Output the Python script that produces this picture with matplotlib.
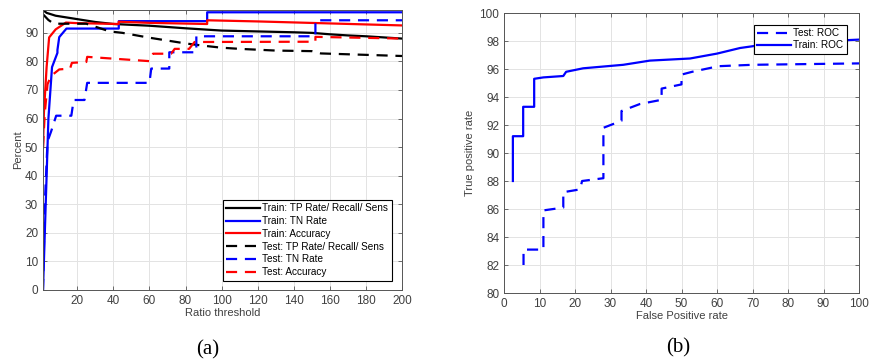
import matplotlib
matplotlib.use('Agg')
import matplotlib.pyplot as plt

plt.rcParams['font.family'] = ['Liberation Sans', 'DejaVu Sans']

# ---- panel (a): rates vs ratio threshold
tr_tp_x = [1, 3, 8, 15, 20, 30, 40, 50, 60, 80, 100, 120, 140, 150, 160, 170, 180, 200]
tr_tp_y = [98, 97, 96, 95.3, 94.8, 93.8, 93.1, 92.8, 92.5, 91.6, 90.8, 90.5, 90.2, 90.0, 89.5, 89.1, 88.8, 88.0]

tr_tn_x = [1, 2, 3, 4, 6, 9, 9, 10, 10, 14, 43, 43, 92, 92, 200]
tr_tn_y = [0, 20, 40, 60, 78, 83, 84, 88.5, 88.5, 91.5, 91.5, 94.1, 94.1, 97.2, 97.2]

tr_acc_x = [1, 1.5, 3, 4.4, 8, 13.7, 20, 43, 43, 60, 92, 92, 120, 160, 200]
tr_acc_y = [49.8, 62, 78, 88.4, 91.2, 93.6, 93.4, 93.1, 93.9, 93.5, 93.1, 94.4, 94.0, 93.3, 92.6]

te_tp_x = [1, 4, 7, 25, 38, 45, 60, 80, 90, 100, 110, 130, 150, 155, 200]
te_tp_y = [96.5, 94.5, 93.2, 93.2, 90.5, 90, 88.3, 86.3, 85.5, 84.8, 84.4, 83.8, 83.6, 82.8, 81.9]

te_tn_x = [1, 2, 3.5, 3.5, 5.5, 5.5, 8.3, 16.7, 18, 24, 25.5, 60, 61, 71, 71, 86, 86, 152, 152, 200]
te_tn_y = [0, 30, 52, 52, 55.5, 55.5, 61, 61, 66.5, 66.5, 72.5, 72.5, 77.5, 77.5, 83.2, 83.2, 88.8, 88.8, 94.4, 94.4]

te_acc_x = [1, 2, 3.5, 5.4, 10, 16, 17, 25, 25.5, 60, 62, 72, 74, 82, 85, 152, 152, 200]
te_acc_y = [50, 62, 72, 74.9, 77.2, 77.5, 79.5, 79.8, 81.6, 80.1, 82.7, 82.7, 84.4, 84.4, 86.8, 86.9, 88.6, 88.0]

a_xticks = [20, 40, 60, 80, 100, 120, 140, 160, 180, 200]
a_yticks = [0, 10, 20, 30, 40, 50, 60, 70, 80, 90]

# ---- panel (b): ROC
te_roc_x = [5.5, 5.5, 5.5, 11.1, 11.1, 16.7, 16.7, 21.4, 22, 28, 28, 33.1, 33.1, 38.3, 44.4, 44.4, 50, 50, 53, 60.4, 70, 85, 100]
te_roc_y = [82.0, 82.0, 83.1, 83.1, 85.9, 86.1, 87.2, 87.4, 88.0, 88.2, 91.8, 92.3, 93.0, 93.5, 93.8, 94.6, 94.9, 95.6, 95.8, 96.2, 96.3, 96.35, 96.4]

tr_roc_x = [2.5, 2.5, 5.4, 5.4, 8.5, 8.5, 11.1, 16.7, 17.5, 22.3, 33.6, 41.1, 52.4, 60, 66.5, 72.1, 85, 97.5, 100]
tr_roc_y = [88.0, 91.2, 91.2, 93.3, 93.3, 95.3, 95.4, 95.5, 95.8, 96.05, 96.3, 96.6, 96.75, 97.1, 97.5, 97.7, 97.9, 98.07, 98.1]

b_xticks = [0, 10, 20, 30, 40, 50, 60, 70, 80, 90, 100]
b_yticks = [80, 82, 84, 86, 88, 90, 92, 94, 96, 98, 100]

dash = (0, (5, 3.5))
lw = 1.6
tick_col = '#404040'


def style(ax):
    ax.grid(True, color='#e3e3e3', linewidth=0.7)
    ax.set_axisbelow(True)
    ax.tick_params(direction='in', top=True, right=True, length=3, width=0.6,
                   labelsize=8.5, colors='#555555', labelcolor=tick_col)
    for s in ax.spines.values():
        s.set_color('#555555')
        s.set_linewidth(0.7)


fig = plt.figure(figsize=(8.69, 3.63), dpi=100)

ax1 = fig.add_axes([43/869, 73/363, 359/869, 280/363])
ax1.plot(tr_tp_x, tr_tp_y, color='k', lw=lw, label='Train: TP Rate/ Recall/ Sens')
ax1.plot(tr_tn_x, tr_tn_y, color='b', lw=lw, label='Train: TN Rate')
ax1.plot(tr_acc_x, tr_acc_y, color='r', lw=lw, label='Train: Accuracy')
ax1.plot(te_tp_x, te_tp_y, color='k', lw=lw, ls=dash, label='Test: TP Rate/ Recall/ Sens')
ax1.plot(te_tn_x, te_tn_y, color='b', lw=lw, ls=dash, label='Test: TN Rate')
ax1.plot(te_acc_x, te_acc_y, color='r', lw=lw, ls=dash, label='Test: Accuracy')
ax1.set_xlim(1, 200)
ax1.set_ylim(0, 98)
ax1.set_xticks(a_xticks)
ax1.set_yticks(a_yticks)
ax1.set_xlabel('Ratio threshold', fontsize=8, color=tick_col, labelpad=1)
ax1.set_ylabel('Percent', fontsize=8, color=tick_col, labelpad=1)
style(ax1)
leg = ax1.legend(loc='lower right', bbox_to_anchor=(0.985, 0.015), fontsize=7.2,
                 fancybox=False, edgecolor='k', framealpha=1, handlelength=3.4,
                 labelspacing=0.28, borderpad=0.35, handletextpad=0.2)
leg.get_frame().set_linewidth(0.8)

ax2 = fig.add_axes([504/869, 70/363, 355/869, 280/363])
ax2.plot(te_roc_x, te_roc_y, color='b', lw=lw, ls=dash, label='Test: ROC')
ax2.plot(tr_roc_x, tr_roc_y, color='b', lw=lw, label='Train: ROC')
ax2.set_xlim(0, 100)
ax2.set_ylim(80, 100)
ax2.set_xticks(b_xticks)
ax2.set_yticks(b_yticks)
ax2.set_xlabel('False Positive rate', fontsize=8, color=tick_col, labelpad=1)
ax2.set_ylabel('True positive rate', fontsize=8, color=tick_col, labelpad=3)
style(ax2)
leg2 = ax2.legend(loc='upper right', bbox_to_anchor=(0.98, 0.975), fontsize=7.2,
                  fancybox=False, edgecolor='k', framealpha=1, handlelength=3.4,
                  labelspacing=0.2, borderpad=0.35, handletextpad=0.2)
leg2.get_frame().set_linewidth(0.8)

fig.text(208/869, 1 - 350/363, '(a)', family='Liberation Serif', fontsize=15,
         ha='center', va='center')
fig.text(678/869, 1 - 348/363, '(b)', family='Liberation Serif', fontsize=15,
         ha='center', va='center')

fig.savefig('out.png', dpi=100)
